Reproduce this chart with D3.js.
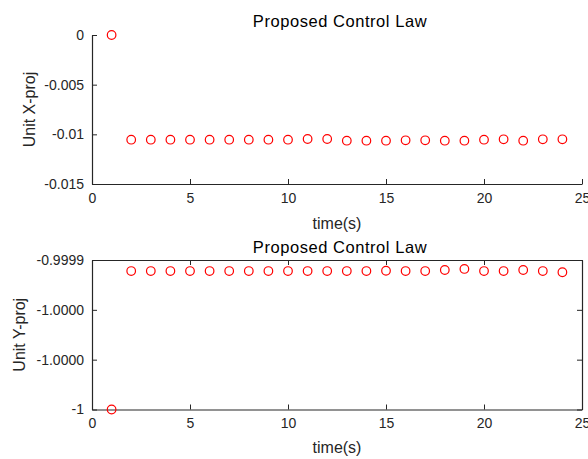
<!DOCTYPE html>
<html>
<head>
<meta charset="utf-8">
<script src="https://cdn.jsdelivr.net/npm/d3@7"></script>
<style>
  html, body { margin: 0; padding: 0; background: #fff; }
  svg { display: block; font-family: "Liberation Sans", Arial, Helvetica, sans-serif; }
  .tick text { fill: #262626; }
</style>
</head>
<body>
<svg id="chart" width="588" height="459"></svg>
<script>
// Sample times (s)
const times = [1, 2, 3, 4, 5, 6, 7, 8, 9, 10, 11, 12, 13, 14, 15, 16, 17, 18, 19, 20, 21, 22, 23, 24];

// Unit vector projection on X
const unitXProj = [0, -0.01054, -0.01054, -0.01054, -0.01054, -0.01054, -0.01054, -0.01054, -0.01054,
  -0.01054, -0.01047, -0.01047, -0.01064, -0.01064, -0.01064, -0.01060, -0.01060, -0.01064, -0.01064,
  -0.01054, -0.01050, -0.01064, -0.01050, -0.01050];

// Unit vector projection on Y
const unitYProj = [-1, -0.9999074, -0.9999074, -0.9999074, -0.9999074, -0.9999074, -0.9999074, -0.9999074,
  -0.9999074, -0.9999074, -0.9999074, -0.9999074, -0.9999074, -0.9999074, -0.9999072, -0.9999074,
  -0.9999074, -0.9999067, -0.9999060, -0.9999074, -0.9999074, -0.9999067, -0.9999074, -0.9999082];

// Axis ticks
const xTicks = [0, 5, 10, 15, 20, 25];
const xTickLabels = ["0", "5", "10", "15", "20", "25"];
const yTicksTop = [0, -0.005, -0.01, -0.015];
const yTickLabelsTop = ["0", "-0.005", "-0.01", "-0.015"];
const yTicksBottom = [-1, -0.99996667, -0.99993333, -0.9999];
const yTickLabelsBottom = ["-1", "-1.0000", "-1.0000", "-0.9999"];

const titleText = "Proposed Control Law";
const xLabelText = "time(s)";
const yLabelTop = "Unit X-proj";
const yLabelBottom = "Unit Y-proj";

const svg = d3.select("#chart");
const axisColor = "#262626";

function drawPanel(cfg) {
  const g = svg.append("g");
  const x = d3.scaleLinear().domain([0, 25]).range([cfg.left, cfg.right]);
  const y = d3.scaleLinear().domain(cfg.yDomain).range([cfg.bottom, cfg.top]);

  const fmtX = (d) => xTickLabels[xTicks.indexOf(d)];
  const fmtY = (d) => cfg.yLabels[cfg.yTicks.indexOf(d)];

  // bottom axis, ticks pointing inward
  const xAxis = g.append("g")
    .attr("transform", `translate(0,${cfg.bottom})`)
    .call(d3.axisBottom(x).tickValues(xTicks).tickFormat(fmtX).tickSizeInner(-5).tickSizeOuter(0).tickPadding(9));
  // left axis
  const yAxis = g.append("g")
    .attr("transform", `translate(${cfg.left},0)`)
    .call(d3.axisLeft(y).tickValues(cfg.yTicks).tickFormat(fmtY).tickSizeInner(-5).tickSizeOuter(0).tickPadding(8));

  [xAxis, yAxis].forEach(a => {
    a.select(".domain").attr("stroke", axisColor).attr("stroke-width", 1.2);
    a.selectAll(".tick line").attr("stroke", axisColor);
    a.selectAll(".tick text").attr("font-size", 14).attr("fill", axisColor);
  });

  if (cfg.box) {
    const xTop = g.append("g")
      .attr("transform", `translate(0,${cfg.top})`)
      .call(d3.axisTop(x).tickValues(xTicks).tickFormat("").tickSizeInner(-5).tickSizeOuter(0));
    const yRight = g.append("g")
      .attr("transform", `translate(${cfg.right},0)`)
      .call(d3.axisRight(y).tickValues(cfg.yTicks).tickFormat("").tickSizeInner(-5).tickSizeOuter(0));
    [xTop, yRight].forEach(a => {
      a.select(".domain").attr("stroke", axisColor).attr("stroke-width", 1.2);
      a.selectAll(".tick line").attr("stroke", axisColor);
    });
  }

  // markers
  g.append("g").selectAll("circle")
    .data(times.map((t, i) => [t, cfg.values[i]]))
    .join("circle")
    .attr("cx", d => x(d[0]))
    .attr("cy", d => y(d[1]))
    .attr("r", 4.3)
    .attr("fill", "none")
    .attr("stroke", "#ff0000")
    .attr("stroke-width", 1.2);

  // title
  g.append("text")
    .attr("x", (cfg.left + cfg.right) / 2 + 3)
    .attr("y", cfg.titleY)
    .attr("text-anchor", "middle")
    .attr("font-size", 16.5)
    .attr("letter-spacing", 0.55)
    .attr("fill", "#000")
    .text(titleText);

  // x label
  g.append("text")
    .attr("x", (cfg.left + cfg.right) / 2)
    .attr("y", cfg.xLabelY)
    .attr("text-anchor", "middle")
    .attr("font-size", 16)
    .attr("fill", axisColor)
    .text(xLabelText);

  // y label
  g.append("text")
    .attr("transform", `translate(${cfg.yLabelX},${(cfg.top + cfg.bottom) / 2}) rotate(-90)`)
    .attr("text-anchor", "middle")
    .attr("font-size", 16)
    .attr("fill", axisColor)
    .text(cfg.yLabel);
}

drawPanel({
  left: 92, right: 582, top: 35, bottom: 184,
  yDomain: [-0.015, 0], yTicks: yTicksTop, yLabels: yTickLabelsTop,
  values: unitXProj, box: false,
  titleY: 27, xLabelY: 229, yLabelX: 35, yLabel: yLabelTop
});

drawPanel({
  left: 92, right: 582, top: 260, bottom: 409.5,
  yDomain: [-1, -0.9999], yTicks: yTicksBottom, yLabels: yTickLabelsBottom,
  values: unitYProj, box: true,
  titleY: 253, xLabelY: 453, yLabelX: 25, yLabel: yLabelBottom
});
</script>
</body>
</html>
